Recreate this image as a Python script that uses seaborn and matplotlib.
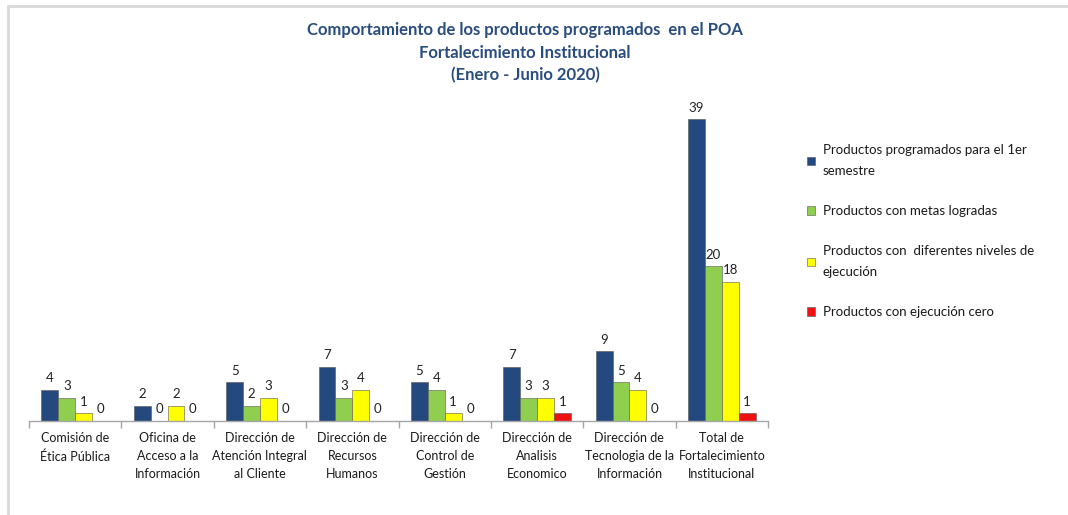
import matplotlib
matplotlib.use('Agg')
import matplotlib.pyplot as plt
from matplotlib.lines import Line2D
import pandas as pd
import seaborn as sns

sns.set_theme(style="white")
plt.rcParams['font.family'] = ['Lato', 'DejaVu Sans']

categories = [
    "Comisión de\nÉtica Pública",
    "Oficina de\nAcceso a la\nInformación",
    "Dirección de\nAtención Integral\nal Cliente",
    "Dirección de\nRecursos\nHumanos",
    "Dirección de\nControl de\nGestión",
    "Dirección de\nAnalisis\nEconomico",
    "Dirección de\nTecnologia de la\nInformación",
    "Total de\nFortalecimiento\nInstitucional",
]
programados = [4, 2, 5, 7, 5, 7, 9, 39]
metas_logradas = [3, 0, 2, 3, 4, 3, 5, 20]
diferentes_niveles = [1, 2, 3, 4, 1, 3, 4, 18]
ejecucion_cero = [0, 0, 0, 0, 0, 1, 0, 1]

series = [
    "Productos programados para el 1er\nsemestre",
    "Productos con metas logradas",
    "Productos con  diferentes niveles de\nejecución",
    "Productos con ejecución cero",
]
colors = ["#24497f", "#8fce4f", "#ffff00", "#ee1111"]

rows = []
for name, vals in zip(series, [programados, metas_logradas, diferentes_niveles, ejecucion_cero]):
    for cat, v in zip(categories, vals):
        rows.append({"categoria": cat, "serie": name, "valor": v})
df = pd.DataFrame(rows)

fig = plt.figure(figsize=(10.68, 5.15), dpi=100)
ax = fig.add_axes([29 / 1068, 94 / 515, 739 / 1068, 325 / 515])

sns.barplot(data=df, x="categoria", y="valor", hue="serie", palette=colors,
            width=0.73, saturation=1, ax=ax, edgecolor="#555555", linewidth=0.4)

for cont in ax.containers:
    ax.bar_label(cont, padding=4, fontsize=9.5, color="#222222")

ax.set_xlim(-0.5, 7.5)
ax.set_ylim(0, 42)
ax.set_xlabel("")
ax.set_ylabel("")
ax.set_yticks([])
for side in ["top", "right", "left"]:
    ax.spines[side].set_visible(False)
ax.spines["bottom"].set_color("#a6a6a6")
ax.spines["bottom"].set_linewidth(1.0)

ax.set_xticks(range(len(categories)))
ax.set_xticklabels(categories, fontsize=9, color="#1a1a1a", linespacing=1.6)
ax.set_xticks([i - 0.5 for i in range(len(categories) + 1)], minor=True)
ax.tick_params(axis="x", which="major", length=0, pad=8)
ax.tick_params(axis="x", which="minor", length=5, color="#a6a6a6", width=1, bottom=True)

leg = ax.legend(loc="upper left", bbox_to_anchor=(795 / 1068, 1 - 132 / 515),
                bbox_transform=fig.transFigure, frameon=False, fontsize=9.5,
                handlelength=0.6, handleheight=0.6, handletextpad=0.6,
                labelspacing=2.1)
for t in leg.get_texts():
    t.set_linespacing(1.95)
    t.set_color("#1a1a1a")

fig.text(525 / 1068, 1 - 22 / 515,
         "Comportamiento de los productos programados  en el POA\n"
         "Fortalecimiento Institucional\n(Enero - Junio 2020)",
         ha="center", va="top", fontsize=12, fontweight="bold",
         color="#2a4d7f", linespacing=1.5)

fig.add_artist(Line2D([7.5 / 1068, 7.5 / 1068], [0, 1 - 6 / 515],
                      color="#d9d9d9", lw=2, transform=fig.transFigure))
fig.add_artist(Line2D([7.5 / 1068, 1], [1 - 6 / 515, 1 - 6 / 515],
                      color="#d9d9d9", lw=2, transform=fig.transFigure))

fig.savefig("out.png", dpi=100)
plt.close(fig)
